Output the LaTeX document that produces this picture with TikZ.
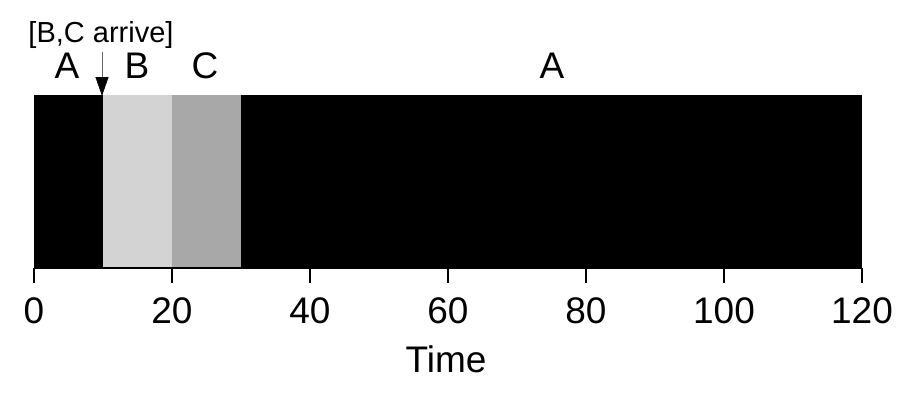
\documentclass[tikz,border=0pt]{standalone}
\usepackage{fontspec}
\setmainfont{Liberation Sans}
\usetikzlibrary{arrows.meta}
\definecolor{bgray}{HTML}{D3D3D3}
\definecolor{cgray}{HTML}{A8A8A8}
\begin{document}
\begin{tikzpicture}[x=1pt,y=-1pt,
  lbl/.style={font=\fontsize{37}{44}\selectfont, inner sep=0pt, anchor=base},
  small/.style={font=\fontsize{29}{34}\selectfont, inner sep=0pt, anchor=base},
  tick/.style={line width=2.6pt}]
\useasboundingbox (0,0) rectangle (908,400);
% bars: 1 unit = 6.9
\fill[black] (34,95) rectangle (103,268);
\fill[bgray] (103,95) rectangle (172,268);
\fill[cgray] (172,95) rectangle (241,268);
\fill[black] (241,95) rectangle (862,268);
\draw[tick] (34,268) -- (862,268);
\foreach \v in {0,20,...,120} {
  \draw[tick] ({34+6.9*\v},268) -- ({34+6.9*\v},283);
  \node[lbl] at ({34+6.9*\v},323) {\v};
}
\node[lbl] (time) at (446,372) {Time};
\node[lbl] (la) at (67,78) {A};
\node[lbl] (lb) at (137,78) {B};
\node[lbl] (lc) at (205,78) {C};
\node[lbl] (la2) at (552,78) {A};
\node[small] (arr) at (101,42) {[B,C arrive]};
\coordinate (tip) at (102,96);
\coordinate (tail) at (102,52);
\draw[gray!80!black, line width=0.8pt, -{Triangle[length=19pt,width=13pt,fill=black,color=black]}] (tail) -- (tip);
\end{tikzpicture}
\end{document}
